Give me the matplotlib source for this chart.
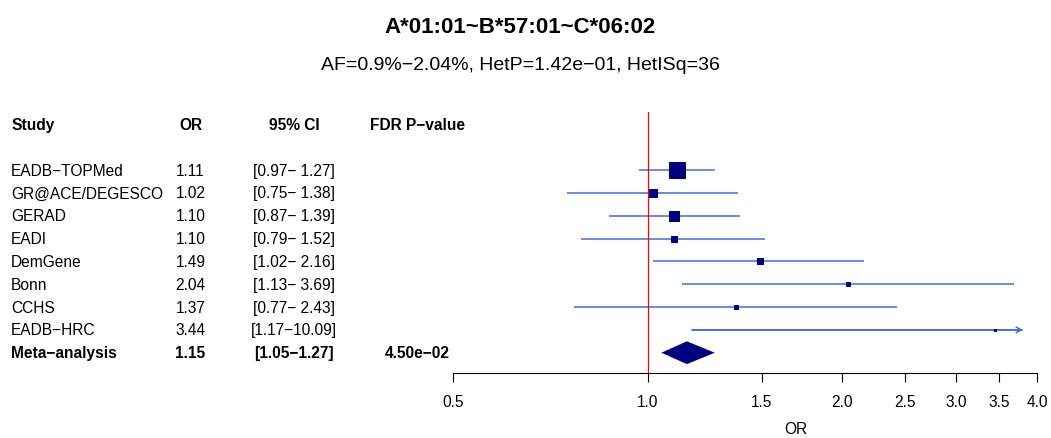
import numpy as np
import matplotlib
matplotlib.use("Agg")
import matplotlib.pyplot as plt
from matplotlib import transforms
from matplotlib.ticker import NullLocator

plt.rcParams['font.family'] = ['Liberation Sans', 'DejaVu Sans']

# ---- data -------------------------------------------------------------
studies = ["EADB−TOPMed", "GR@ACE/DEGESCO", "GERAD", "EADI",
           "DemGene", "Bonn", "CCHS", "EADB−HRC"]
odds_ratio = [1.11, 1.02, 1.10, 1.10, 1.49, 2.04, 1.37, 3.44]
ci_low = [0.97, 0.75, 0.87, 0.79, 1.02, 1.13, 0.77, 1.17]
ci_high = [1.27, 1.38, 1.39, 1.52, 2.16, 3.69, 2.43, 10.09]

meta_label = "Meta−analysis"
meta_or = 1.15
meta_low = 1.05
meta_high = 1.27
meta_fdr_p = 4.50e-02

haplotype = "A*01:01~B*57:01~C*06:02"
af_min, af_max = 0.9, 2.04
het_p = 1.42e-01
het_isq = 36

x_ticks = [0.5, 1.0, 1.5, 2.0, 2.5, 3.0, 3.5, 4.0]
upper_clip = 3.8

# ---- styling ----------------------------------------------------------
W, H = 1051, 438
CI_COLOR = "#4169E1"
BOX_COLOR = "#000080"
FS = 11.2


def minus(s):
    return s.replace("-", "\u2212")


fig = plt.figure(figsize=(W / 100, H / 100), dpi=100)
ax = fig.add_axes([453 / W, 1 - 373 / H, 584 / W, 261 / H])
ax.set_xscale("log", base=2)
ax.set_xlim(0.5, 4.0)
row_h = 22.84
ax.set_ylim(1 + 203 / row_h, 1 - 58 / row_h)

# box side proportional to sqrt of inverse-variance weight
lo = np.array(ci_low)
hi = np.array(ci_high)
se = (np.log(hi) - np.log(lo)) / (2 * 1.96)
w = 1 / se ** 2
side = 12.0 * np.sqrt(w / w.max())

rows = np.arange(1, len(studies) + 1)
for y, o, l, h, s in zip(rows, odds_ratio, ci_low, ci_high, side):
    right = min(h, upper_clip)
    ax.plot([l, right], [y, y], color=CI_COLOR, lw=1.1,
            solid_capstyle="butt", zorder=1)
    if h > upper_clip:
        ax.annotate("", xy=(upper_clip, y), xytext=(l, y),
                    arrowprops=dict(arrowstyle="->,head_length=0.35,head_width=0.2",
                                    color=CI_COLOR, lw=1.1,
                                    shrinkA=0, shrinkB=0),
                    zorder=1)
    ax.plot(o, y, marker="s", ms=s, color=BOX_COLOR, mec=BOX_COLOR,
            mew=0.75, zorder=3)

meta_row = len(studies) + 1
ax.fill([meta_low, meta_or, meta_high, meta_or],
        [meta_row, meta_row - 0.5, meta_row, meta_row + 0.5],
        color=BOX_COLOR, lw=0, zorder=3)

ax.axvline(1.0, color="red", lw=0.9, zorder=2)

for sp in ("top", "right", "left"):
    ax.spines[sp].set_visible(False)
ax.spines["bottom"].set_linewidth(0.8)
ax.set_yticks([])
ax.set_xticks(x_ticks)
ax.set_xticklabels([f"{t:.1f}" for t in x_ticks])
ax.xaxis.set_minor_locator(NullLocator())
ax.tick_params(axis="x", length=6.5, width=0.8, pad=9.5, labelsize=FS)
fig.text(796 / W, 1 - 434.5 / H, "OR", ha="center", va="baseline", fontsize=FS)

# ---- table columns ----------------------------------------------------
cap_half = 0.716 * FS / 72 / 2
trans = transforms.blended_transform_factory(fig.transFigure, ax.transData) + \
    transforms.ScaledTranslation(0, -cap_half, fig.dpi_scale_trans)

col_study, col_or, col_ci, col_p = 11 / W, 190.5 / W, 294 / W, 417 / W
header_row = -1
for x, txt, ha in [(col_study, "Study", "left"), (col_or, "OR", "center"),
                   (col_ci, "95% CI", "center"), (col_p, minus("FDR P-value"), "center")]:
    ax.text(x, header_row, txt, transform=trans, ha=ha, va="baseline",
            fontsize=FS, fontweight="bold")

for y, name, o, l, h in zip(rows, studies, odds_ratio, ci_low, ci_high):
    ax.text(col_study, y, name, transform=trans, ha="left", va="baseline", fontsize=FS)
    ax.text(col_or, y, f"{o:.2f}", transform=trans, ha="center", va="baseline", fontsize=FS)
    ax.text(col_ci, y, f"[{l:.2f}\u2212{h:5.2f}]", transform=trans, ha="center",
            va="baseline", fontsize=FS)

bold = dict(transform=trans, va="baseline", fontsize=FS, fontweight="bold")
ax.text(col_study, meta_row, meta_label, ha="left", **bold)
ax.text(col_or, meta_row, f"{meta_or:.2f}", ha="center", **bold)
ax.text(col_ci, meta_row, f"[{meta_low:.2f}\u2212{meta_high:.2f}]", ha="center", **bold)
ax.text(col_p, meta_row, minus(f"{meta_fdr_p:.2e}"), ha="center", **bold)

# ---- titles -----------------------------------------------------------
fig.text(520.5 / W, 1 - 33 / H, haplotype, ha="center", va="baseline",
         fontsize=16, fontweight="bold")
subtitle = minus(f"AF={af_min:g}%-{af_max:g}%, HetP={het_p:.2e}, HetISq={het_isq}")
fig.text(520.5 / W, 1 - 70 / H, subtitle, ha="center", va="baseline", fontsize=14)

fig.savefig("out.png", dpi=100)
